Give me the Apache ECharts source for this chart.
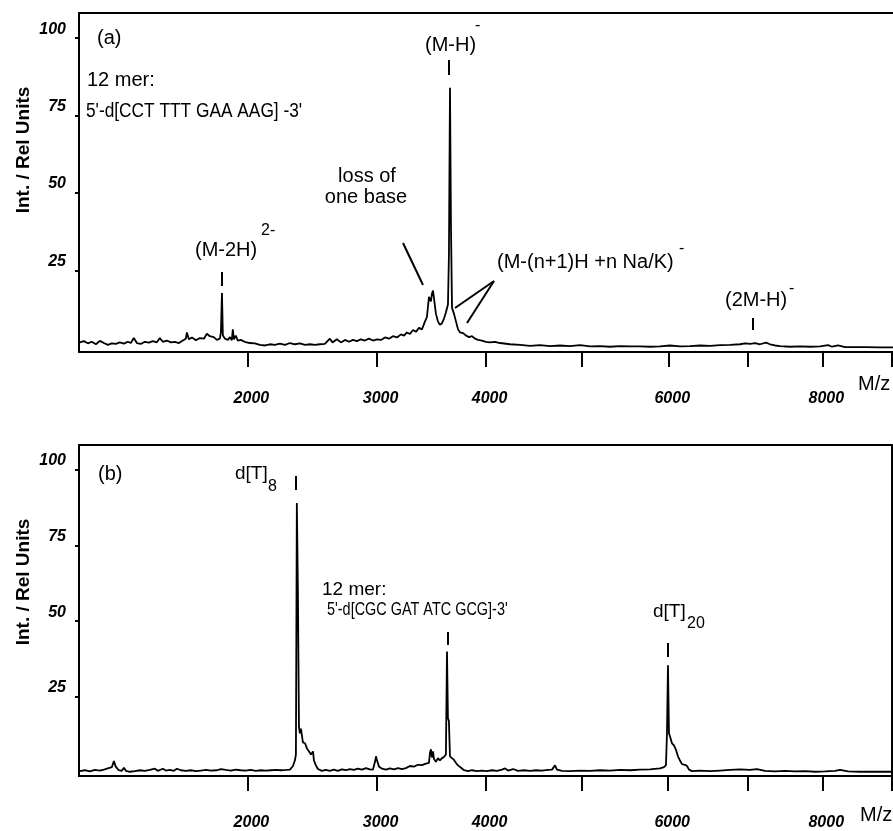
<!DOCTYPE html>
<html>
<head>
<meta charset="utf-8">
<title>MALDI spectra of oligonucleotides</title>
<script src="https://cdn.jsdelivr.net/npm/echarts@6/dist/echarts.min.js"></script>
<style>
    html, body { margin: 0; padding: 0; background: #fff; }
    #main { width: 893px; height: 831px; }
</style>
</head>
<body>
<div id="main"></div>
<script>
// spectrum (a): 12 mer 5'-d[CCT TTT GAA AAG]-3'   [m/z, rel. intensity]
var spectrumA = [
    [1004,1.8],[1024,2.2],[1044,1.5],[1064,2.0],[1085,1.2],[1105,2.3],[1126,1.6],[1147,1.0],
    [1168,1.5],[1189,1.3],[1211,1.8],[1233,1.4],[1255,2.0],[1271,1.6],[1288,3.2],[1305,1.6],
    [1327,1.3],[1350,2.0],[1373,1.7],[1396,2.2],[1419,1.8],[1437,3.2],[1455,2.0],[1479,2.4],
    [1503,1.8],[1527,2.0],[1552,1.6],[1576,2.4],[1595,3.0],[1601,5.0],[1614,2.8],[1633,3.4],
    [1658,2.5],[1683,3.2],[1709,3.0],[1728,4.6],[1747,3.8],[1773,3.5],[1793,2.6],[1813,3.0],
    [1820,5.0],[1827,17.7],[1833,4.0],[1847,3.0],[1867,2.6],[1880,3.5],[1893,2.5],[1900,6.0],
    [1907,2.8],[1920,4.0],[1934,2.4],[1954,2.6],[1981,2.0],[2017,1.6],[2052,1.5],[2088,1.0],
    [2124,0.8],[2160,1.2],[2196,1.0],[2232,1.4],[2270,1.0],[2307,1.6],[2344,1.2],[2382,1.5],
    [2421,1.0],[2459,1.2],[2498,1.0],[2536,1.2],[2575,1.3],[2615,3.0],[2636,1.8],[2671,2.8],
    [2704,1.8],[2737,2.6],[2769,2.0],[2802,2.6],[2835,2.2],[2868,2.8],[2901,2.4],[2935,3.0],
    [2969,2.4],[3003,2.8],[3038,2.6],[3072,3.4],[3107,3.0],[3141,3.8],[3176,3.4],[3211,4.4],
    [3238,4.0],[3264,5.0],[3291,4.5],[3318,5.8],[3345,5.2],[3372,6.5],[3399,6.0],[3426,8.5],
    [3444,10],[3463,16.5],[3472,17.0],[3481,15],[3490,17.5],[3500,18.5],[3509,16],[3527,11],
    [3546,8.5],[3564,7.5],[3583,8.0],[3602,9.5],[3620,11.5],[3639,14],[3648,30],[3658,84],
    [3667,40],[3677,13],[3696,11],[3715,8.5],[3734,6],[3753,5],[3782,4.8],[3811,4],
    [3840,3.5],[3868,3.8],[3897,3.0],[3926,2.6],[3965,2.4],[4004,2.0],[4044,1.8],[4093,2.0],
    [4144,1.6],[4245,1.2],[4347,1.0],[4450,0.7],[4554,0.9],[4660,0.6],[4766,0.8],[4875,0.6],
    [4984,0.9],[5095,0.5],[5206,0.6],[5319,0.4],[5433,0.6],[5548,0.5],[5664,0.5],[5782,0.4],
    [5901,0.5],[6021,0.8],[6143,0.5],[6265,0.6],[6389,0.8],[6515,0.7],[6641,0.9],[6768,1.0],
    [6896,1.2],[6961,1.5],[7026,1.3],[7091,1.6],[7157,1.2],[7236,1.7],[7289,1.2],[7356,0.8],
    [7423,0.6],[7558,0.4],[7693,0.5],[7831,0.4],[7969,0.5],[8081,0.9],[8137,0.4],[8222,0.8],
    [8320,0.3],[8463,0.3],[8607,0.3],[8825,0.2],[9014,0.2]
];

// spectrum (b): d[T]8, 12 mer 5'-d[CGC GAT ATC GCG]-3', d[T]20
var spectrumB = [
    [1004,0.5],[1029,0.8],[1054,0.4],[1080,0.9],[1105,0.7],[1126,1.0],[1147,1.4],[1168,1.8],
    [1179,3.8],[1189,2.0],[1205,0.8],[1222,0.6],[1233,1.6],[1244,0.6],[1266,0.3],[1294,0.5],
    [1322,0.8],[1350,0.6],[1379,0.9],[1408,1.3],[1425,0.6],[1455,1.3],[1473,0.7],[1497,0.9],
    [1521,0.6],[1540,1.3],[1564,0.8],[1595,0.6],[1626,0.8],[1658,0.5],[1689,0.7],[1722,0.9],
    [1754,0.7],[1767,1.3],[1793,0.8],[1820,1.2],[1833,1.6],[1853,0.9],[1887,0.7],[1920,1.0],
    [1954,0.8],[1988,0.7],[2023,0.9],[2059,0.6],[2095,0.8],[2131,0.7],[2168,0.8],[2204,0.9],
    [2240,0.8],[2278,0.9],[2307,1.0],[2330,2.2],[2344,4.0],[2352,6],[2359,89],[2367,60],
    [2375,15],[2382,13],[2390,14.5],[2405,10],[2421,9.7],[2436,8],[2452,7],[2467,6],
    [2483,7],[2490,4],[2505,2.4],[2521,1.2],[2552,0.6],[2583,0.9],[2615,0.6],[2647,1.0],
    [2679,0.6],[2712,1.1],[2745,0.8],[2777,1.2],[2810,0.9],[2843,1.3],[2876,1.0],[2910,1.5],
    [2943,1.1],[2969,1.0],[2986,3.5],[2995,5.4],[3003,4.2],[3020,2.0],[3046,1.3],[3081,1.0],
    [3115,1.4],[3150,1.1],[3185,1.5],[3220,1.2],[3255,1.5],[3291,2.2],[3327,2.0],[3363,2.6],
    [3399,2.5],[3435,3.0],[3463,3.2],[3472,6.5],[3481,7.7],[3490,5],[3500,7],[3509,4.5],
    [3527,3.6],[3546,4.8],[3564,4.0],[3583,4.8],[3602,5.2],[3620,6.0],[3630,40],[3639,18],
    [3648,17],[3658,5.4],[3677,4.8],[3696,4.2],[3715,3.2],[3734,2.4],[3763,1.6],[3792,0.8],
    [3830,0.5],[3868,0.8],[3916,0.5],[3965,0.7],[4014,0.5],[4064,0.8],[4114,0.6],[4164,1.0],
    [4195,1.4],[4225,0.7],[4276,1.2],[4327,0.6],[4388,0.8],[4450,0.6],[4512,0.8],[4575,0.7],
    [4638,0.9],[4681,1.0],[4713,2.4],[4734,1.0],[4788,0.6],[4875,0.5],[4984,0.7],[5095,0.6],
    [5206,0.8],[5319,0.7],[5433,0.9],[5548,0.8],[5664,1.0],[5782,1.1],[5901,1.4],[5949,1.8],
    [5973,2.5],[5985,13],[5997,35.4],[6009,13],[6021,12],[6045,9.7],[6070,9],[6094,7.5],
    [6118,5.4],[6143,4.0],[6167,2.8],[6204,2.6],[6229,2.2],[6253,1.0],[6290,0.5],[6389,0.7],
    [6515,0.5],[6641,0.7],[6768,0.9],[6896,1.1],[7026,0.9],[7117,1.2],[7223,0.6],[7356,0.4],
    [7490,0.6],[7625,0.4],[7762,0.5],[7900,0.3],[8039,0.4],[8179,0.6],[8250,0.9],[8364,0.4],
    [8534,0.3],[8750,0.3],[8990,0.3]
];

var xTicks = [ 2000, 3000, 4000, 5000, 6000, 7000, 8000, 9000 ];
var xLabels = [ 2000, 3000, 4000, 6000, 8000 ];
var yTicks = [ 25, 50, 75, 100 ];

var FONT = '"Liberation Sans", Arial, Helvetica, sans-serif';

// the m/z axis of a TOF spectrum is linear in sqrt(m/z)
function toAxis( list ) {
    return list.map( function( p ) { return [ Math.sqrt( p[0] ), p[1] ]; } );
}

function makeX( gridIndex, maxMz ) {
    return {
        type: 'value',
        gridIndex: gridIndex,
        min: Math.sqrt( 1000 ),
        max: Math.sqrt( maxMz ),
        axisLine: { onZero: false, lineStyle: { color: '#000', width: 2 } },
        axisTick: {
            customValues: xTicks.map( Math.sqrt ),
            length: 15,
            lineStyle: { color: '#000', width: 2 }
        },
        axisLabel: {
            customValues: xLabels.map( Math.sqrt ),
            formatter: function( v ) { return String( Math.round( v * v / 1000 ) * 1000 ); },
            margin: 39,
            padding: [ 0, 0, 0, 8 ],
            color: '#000',
            fontFamily: FONT,
            fontSize: 16,
            fontWeight: 'bold',
            fontStyle: 'italic'
        },
        splitLine: { show: false }
    };
}

// plain top frame line of a panel
function frameTop( gridIndex ) {
    return {
        type: 'value',
        gridIndex: gridIndex,
        position: 'top',
        min: 0,
        max: 1,
        axisLine: { onZero: false, lineStyle: { color: '#000', width: 2 } },
        axisTick: { show: false },
        axisLabel: { show: false },
        splitLine: { show: false }
    };
}

function makeY( gridIndex, min ) {
    return {
        type: 'value',
        gridIndex: gridIndex,
        min: min,
        max: 108.1,
        axisLine: { show: true, onZero: false, lineStyle: { color: '#000', width: 2 } },
        axisTick: {
            show: true,
            customValues: yTicks,
            length: 4,
            lineStyle: { color: '#000', width: 2 }
        },
        axisLabel: {
            customValues: yTicks,
            margin: 13,
            color: '#000',
            fontFamily: FONT,
            fontSize: 16,
            fontWeight: 'bold',
            fontStyle: 'italic',
            verticalAlign: 'bottom',
            padding: [ 0, 0, 1, 0 ]
        },
        splitLine: { show: false }
    };
}

function txt( x, y, s, size, extra, sx ) {
    var el = {
        type: 'text',
        x: x,
        y: y,
        silent: true,
        style: {
            text: s,
            fill: '#000',
            fontFamily: FONT,
            fontSize: size,
            align: 'left',
            verticalAlign: 'middle'
        }
    };
    if( extra ) {
        for( var k in extra ) { el.style[k] = extra[k]; }
    }
    if( sx ) {
        el.scaleX = sx;
    }
    return el;
}

function seg( x1, y1, x2, y2 ) {
    return {
        type: 'line',
        silent: true,
        shape: { x1: x1, y1: y1, x2: x2, y2: y2 },
        style: { stroke: '#000', lineWidth: 2 }
    };
}

var yTitle = function( y ) {
    var el = txt( 24, y, 'Int. / Rel Units', 19, { fontWeight: 'bold', align: 'center' } );
    el.rotation = Math.PI / 2;
    return el;
};

var notes = [
    // panel (a)
    txt( 97, 38, '(a)', 20 ),
    txt( 87, 80, '12 mer:', 20 ),
    txt( 86, 111, "5'-d[CCT TTT GAA AAG] -3'", 20, null, 0.865 ),
    txt( 425, 45, '(M-H)', 20 ), txt( 475, 26, '-', 16 ),
    seg( 449, 60, 449, 75 ),
    txt( 195, 250, '(M-2H)', 20 ), txt( 261, 231, '2-', 16 ),
    seg( 222, 272, 222, 286 ),
    txt( 367, 176, 'loss of', 20, { align: 'center' } ),
    txt( 366, 197, 'one base', 20, { align: 'center' } ),
    seg( 403, 243, 423, 285 ),
    txt( 497, 262, '(M-(n+1)H +n Na/K)', 20 ), txt( 679, 249, '-', 16 ),
    seg( 494, 281, 455, 308 ), seg( 494, 281, 467, 323 ),
    txt( 725, 300, '(2M-H)', 20 ), txt( 789, 289, '-', 16 ),
    seg( 753, 318, 753, 330 ),
    txt( 858, 384, 'M/z', 20 ),
    yTitle( 150 ),
    // panel (b)
    txt( 98, 474, '(b)', 20 ),
    txt( 235, 474, 'd[T]', 19 ), txt( 268, 487, '8', 16 ),
    seg( 296, 476, 296, 490 ),
    txt( 322, 590, '12 mer:', 19 ),
    txt( 327, 610, "5'-d[CGC GAT ATC GCG]-3'", 19, null, 0.76 ),
    seg( 448, 632, 448, 645 ),
    txt( 653, 612, 'd[T]', 19 ), txt( 687, 624, '20', 16 ),
    seg( 668, 643, 668, 657 ),
    txt( 860, 815, 'M/z', 20 ),
    yTitle( 582 )
];

function lineSeries( idx, data ) {
    return {
        type: 'line',
        xAxisIndex: idx,
        yAxisIndex: idx,
        data: toAxis( data ),
        showSymbol: false,
        symbol: 'none',
        sampling: null,
        lineStyle: { color: '#000', width: 1.8 },
        silent: true
    };
}

var myChart = echarts.init( document.getElementById( 'main' ), null, { renderer: 'canvas' } );
var option = {
    backgroundColor: '#fff',
    animation: false,
    grid: [
        { left: 79, top: 13, right: 0, bottom: 479 },
        { left: 79, top: 445, right: 1, bottom: 51, show: true, borderColor: '#000', borderWidth: 2, backgroundColor: 'transparent' }
    ],
    xAxis: [ makeX( 0, 9014 ), makeX( 1, 9000 ), frameTop( 0 ) ],
    yAxis: [ makeY( 0, -1.3 ), makeY( 1, -1.1 ) ],
    series: [ lineSeries( 0, spectrumA ), lineSeries( 1, spectrumB ) ],
    graphic: notes
};
myChart.setOption( option );
</script>
</body>
</html>
